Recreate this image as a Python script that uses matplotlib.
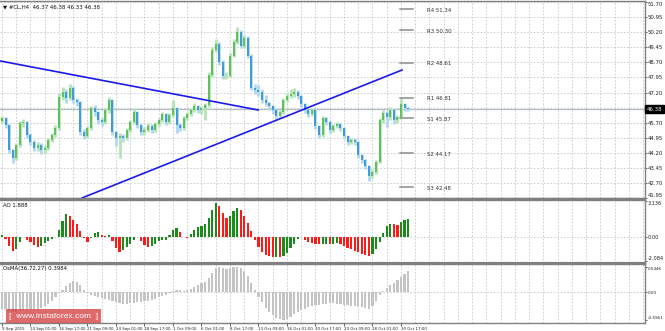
import numpy as np
import matplotlib
matplotlib.use("Agg")
import matplotlib.pyplot as plt
from matplotlib import font_manager

# ---------------- data ----------------
closes = [45.93, 45.58, 44.34, 43.94, 44.59, 45.68, 45.73, 45.09, 44.74, 44.44,
          44.59, 44.34, 44.44, 44.84, 45.09, 45.44, 46.98, 47.23, 46.93, 47.43,
          46.83, 46.73, 45.24, 45.04, 45.44, 46.43, 46.23, 45.83, 45.73, 46.33,
          46.83, 45.24, 44.94, 45.04, 44.94, 45.34, 45.73, 46.23, 45.58, 45.24,
          45.34, 45.53, 45.34, 45.63, 45.83, 46.13, 45.73, 46.08, 46.43, 45.58,
          45.44, 45.93, 46.13, 46.33, 46.53, 46.33, 46.43, 46.58, 48.07, 49.31,
          49.61, 48.72, 48.02, 48.02, 49.02, 49.71, 50.21, 49.51, 49.91, 49.02,
          47.43, 47.33, 47.23, 46.83, 46.68, 46.53, 46.33, 46.03, 46.23, 46.83,
          47.03, 47.13, 47.23, 47.03, 46.63, 46.33, 46.13, 46.33, 45.53, 45.09,
          45.93, 45.73, 45.34, 45.53, 45.63, 45.44, 45.04, 44.74, 44.84, 44.74,
          44.09, 43.84, 43.55, 43.05, 43.25, 43.75, 45.83, 46.18, 45.98, 46.33,
          45.83, 45.98, 46.63, 46.43, 46.38]
highs = [46.05, 46.00, 45.65, 44.40, 44.70, 45.80, 45.90, 45.80, 45.20, 44.85,
         44.75, 44.70, 44.60, 44.95, 45.20, 45.60, 47.20, 47.45, 47.35, 47.60,
         47.50, 46.95, 46.80, 45.40, 45.55, 46.55, 46.60, 46.30, 45.95, 46.45,
         47.00, 46.90, 45.30, 45.20, 45.15, 45.45, 45.85, 46.45, 46.30, 45.65,
         45.50, 45.70, 45.65, 45.75, 45.95, 46.25, 46.20, 46.20, 46.85, 46.50,
         45.70, 46.05, 46.25, 46.45, 46.70, 46.60, 46.55, 46.70, 48.20, 49.45,
         49.85, 49.70, 48.80, 48.20, 49.15, 49.85, 50.45, 50.30, 50.05, 50.00,
         49.10, 47.60, 47.55, 47.35, 47.10, 46.75, 46.60, 46.40, 46.35, 46.95,
         47.20, 47.35, 47.40, 47.30, 47.10, 46.70, 46.40, 46.45, 46.40, 45.60,
         46.05, 46.00, 45.80, 45.65, 45.75, 45.70, 45.50, 45.10, 44.95, 44.95,
         44.80, 44.15, 43.90, 43.60, 43.40, 43.85, 45.95, 46.35, 46.30, 46.50,
         46.40, 46.10, 46.95, 46.70, 46.50]
lows = [45.70, 45.45, 44.20, 43.70, 43.85, 44.50, 45.50, 44.95, 44.60, 44.30,
        44.30, 44.15, 44.20, 44.35, 44.75, 45.00, 45.35, 46.85, 46.70, 46.85,
        46.70, 46.55, 45.10, 44.90, 44.95, 45.35, 46.05, 45.65, 45.55, 45.65,
        46.20, 45.10, 44.55, 43.95, 44.75, 44.85, 45.25, 45.65, 45.45, 45.10,
        45.10, 45.25, 45.20, 45.25, 45.55, 45.75, 45.60, 45.65, 46.00, 45.20,
        45.30, 45.35, 45.85, 46.05, 46.25, 46.20, 46.15, 45.85, 46.50, 47.95,
        49.20, 48.55, 47.85, 47.85, 47.95, 48.95, 49.60, 49.40, 49.40, 48.90,
        47.30, 47.15, 47.05, 46.70, 46.55, 46.35, 46.15, 45.85, 45.95, 46.15,
        46.75, 46.95, 47.00, 46.90, 46.50, 46.20, 46.00, 46.05, 45.40, 44.95,
        45.00, 45.60, 45.20, 45.25, 45.45, 45.30, 44.90, 44.60, 44.65, 44.60,
        43.95, 43.70, 43.40, 42.80, 42.95, 43.15, 43.70, 45.70, 45.50, 45.85,
        45.65, 45.70, 45.90, 46.30, 46.30]
first_open = 45.80

ao = [0.15, -0.2, -0.8, -1.25, -1.1, -0.5, -0.05, -0.3, -0.5, -0.7,
      -0.85, -0.8, -0.55, -0.35, -0.2, -0.05, 0.6, 1.4, 1.95, 1.8,
      1.5, 1.15, 0.5, -0.1, -0.45, -0.1, 0.35, 0.45, 0.15, 0.05,
      0.15, -0.35, -0.95, -1.3, -1.15, -0.9, -0.6, -0.3, -0.05, -0.4,
      -0.7, -0.85, -0.8, -0.6, -0.35, -0.3, -0.25, 0.15, 0.55, 0.75,
      0.45, -0.05, -0.1, 0.2, 0.6, 0.85, 0.9, 1.1, 1.6, 2.3,
      2.95, 2.7, 2.1, 1.6, 1.8, 2.2, 2.5, 2.3, 1.8, 1.2,
      0.5, -0.3, -0.9, -1.3, -1.55, -1.7, -1.8, -1.75, -1.8, -1.7,
      -1.4, -1.0, -0.6, -0.2, -0.05, -0.3, -0.5, -0.55, -0.6, -0.65,
      -0.6, -0.6, -0.65, -0.6, -0.55, -0.6, -0.8, -1.0, -1.1, -1.2,
      -1.35, -1.5, -1.6, -1.7, -1.5, -1.1, -0.5, 0.3, 0.9, 1.15,
      1.1, 1.05, 1.3, 1.45, 1.55]

osma = [-0.35, -0.37, -0.40, -0.42, -0.42, -0.40, -0.38, -0.37, -0.36, -0.36,
        -0.35, -0.33, -0.30, -0.25, -0.18, -0.10, -0.02, 0.06, 0.14, 0.20,
        0.25, 0.22, 0.15, 0.06, -0.02, -0.06, -0.08, -0.10, -0.13, -0.15,
        -0.17, -0.19, -0.22, -0.24, -0.25, -0.25, -0.24, -0.23, -0.22, -0.20,
        -0.19, -0.18, -0.16, -0.14, -0.11, -0.08, -0.05, -0.01, 0.03, 0.05,
        0.04, 0.03, 0.05, 0.08, 0.12, 0.16, 0.20, 0.23, 0.30, 0.42,
        0.52, 0.55, 0.52, 0.50, 0.52, 0.54, 0.55, 0.52, 0.45, 0.35,
        0.20, 0.05, -0.10, -0.22, -0.33, -0.43, -0.50, -0.55, -0.58, -0.59,
        -0.57, -0.53, -0.47, -0.42, -0.38, -0.35, -0.32, -0.30, -0.28, -0.27,
        -0.26, -0.25, -0.24, -0.24, -0.25, -0.26, -0.27, -0.28, -0.29, -0.30,
        -0.31, -0.32, -0.34, -0.36, -0.30, -0.18, -0.06, 0.02, 0.10, 0.15,
        0.20, 0.26, 0.33, 0.40, 0.47]

date_labels = ["9 Sep 2015", "14 Sep 01:00", "16 Sep 17:00", "21 Sep 09:00",
               "24 Sep 01:00", "28 Sep 17:00", "1 Oct 09:00", "6 Oct 01:00",
               "8 Oct 17:00", "13 Oct 09:00", "16 Oct 01:00", "20 Oct 17:00",
               "23 Oct 09:00", "28 Oct 01:00", "30 Oct 17:00"]

price_ticks = [51.70, 50.95, 50.20, 49.45, 48.70, 47.95, 47.20,
               45.70, 44.95, 44.20, 43.45, 42.70, 41.95]
last_price = 46.38

ao_ticks = [3.136, 0.0, -2.084]
ao_tick_text = ["3.136", "0.00", "-2.084"]
osma_ticks = [0.5446, 0.0, -0.5961]
osma_tick_text = ["0.5446", "0.00", "-0.5961"]

pivot_names = ["R4", "R3", "R2", "R1", "S1", "S2", "S3"]
pivot_text = ["51.34", "50.30", "48.61", "46.81", "45.87", "44.17", "42.48"]
pivot_levels = [51.34, 50.30, 48.67, 46.93, 45.93, 44.19, 42.50]

# trend lines: (bar, price) end points
trend_down = ([-0.56, 71.9], [48.77, 46.33])
trend_up = ([22.5, 112.3], [41.96, 48.32])

# ---------------- fonts ----------------
installed = {f.name for f in font_manager.fontManager.ttflist}
NARROW = "Liberation Sans Narrow" if "Liberation Sans Narrow" in installed \
    else "DejaVu Sans"
plt.rcParams["font.family"] = [NARROW, "DejaVu Sans"]


def fit_size(texts, max_px, start=4.0):
    """largest font size (pt) so that every text is at most max_px wide"""
    fp = font_manager.FontProperties(family=[NARROW, "DejaVu Sans"], size=10)
    tp = matplotlib.textpath.TextPath
    widest = max(tp((0, 0), t, prop=fp).get_extents().width for t in texts)
    px_at_10 = widest * 100 / 72
    return min(start, 10 * max_px / px_at_10)


# ---------------- figure ----------------
W, H = 665, 331
fig = plt.figure(figsize=(W / 100, H / 100), dpi=100)
fig.patch.set_facecolor("white")

FS = 3.9
FS_X = fit_size(date_labels, 26)
FS_MAIN = fit_size(["51.70"], 15.5, start=3.9)
FS_AO = fit_size(ao_tick_text, 15.5, start=3.9)
FS_OS = fit_size(osma_tick_text, 15.5, start=3.9)
GRID = dict(color="#c4c8cc", lw=0.6, ls=(0, (2, 2)))
RIGHT = 645


def add_pane(top, bottom):
    return fig.add_axes([0, 1 - bottom / H, RIGHT / W, (bottom - top) / H])


ax1 = add_pane(1, 198.5)
ax2 = add_pane(199.5, 262.5)
ax3 = add_pane(263.5, 322.5)

n = len(closes)
x = np.arange(n)
xlim = (-0.56, 180.5)
opens = [first_open] + closes[:-1]

for ax, fs in ((ax1, FS_MAIN), (ax2, FS_AO), (ax3, FS_OS)):
    ax.set_xlim(*xlim)
    ax.set_facecolor("white")
    for s in ax.spines.values():
        s.set_color("#808080")
        s.set_linewidth(1.0)
    ax.spines["left"].set_visible(False)
    ax.yaxis.tick_right()
    ax.tick_params(axis="y", labelsize=fs, length=1.2, width=0.5, pad=0.8,
                   colors="#202020")
    ax.tick_params(axis="x", length=0, labelbottom=False)
    for gx in np.arange(0, 181, 4):
        ax.axvline(gx, zorder=0, **GRID)

# ---- main price pane ----
ax1.set_ylim(41.93, 51.75)
ax1.set_yticks(price_ticks)
ax1.set_yticklabels([f"{v:.2f}" for v in price_ticks])
for v in price_ticks + [46.45]:
    ax1.axhline(v, zorder=0, **GRID)
labs = ax1.get_yticklabels()
labs[0].set_va("top")
labs[-1].set_va("bottom")

up = np.array(closes) >= np.array(opens)
for i in range(n):
    wick_c = "#b4e4b4" if up[i] else "#b0d8f0"
    body_c = "#4cba4c" if up[i] else "#2c8fd0"
    ax1.vlines(x[i], lows[i], highs[i], color=wick_c, lw=2.0, zorder=2)
    ax1.vlines(x[i], min(opens[i], closes[i]), max(opens[i], closes[i]),
               color=body_c, lw=1.2, zorder=3)

ax1.axhline(last_price, color="#b4bec8", lw=0.9, zorder=1)
ax1.plot(*trend_down, color="#1a1aee", lw=1.2, zorder=4)
ax1.plot(*trend_up, color="#1a1aee", lw=1.2, zorder=4)

for name, txt, lvl in zip(pivot_names, pivot_text, pivot_levels):
    ax1.plot([111.7, 115.4], [lvl, lvl], color="#8c8c8c", lw=1.1, zorder=3)
    ax1.text(119.3, lvl - 0.05, f"{name} {txt}", fontsize=FS, color="#303030",
             va="center", ha="left")

ax1.text(0.004, 0.985, "\u25bc #CL,H4  46.37 46.38 46.33 46.38",
         transform=ax1.transAxes, fontsize=FS, va="top", ha="left",
         color="#101010")
ax1.annotate(f"{last_price:.2f}", xy=(1.0, last_price),
             xycoords=("axes fraction", "data"), xytext=(1.2, 0),
             textcoords="offset points", fontsize=FS_MAIN, color="white",
             va="center", ha="left",
             bbox=dict(boxstyle="square,pad=0.25", fc="black", ec="black"))

# ---- AO pane ----
ax2.set_ylim(-2.24, 3.24)
ao_arr = np.array(ao)
ao_col = ["#1a8c1a" if i == 0 or ao_arr[i] >= ao_arr[i - 1] else "#ff1a1a"
          for i in range(n)]
ax2.bar(x, ao_arr, width=0.62, color=ao_col, zorder=2)
ax2.axhline(0, zorder=1, **GRID)
ax2.set_yticks(ao_ticks)
ax2.set_yticklabels(ao_tick_text)
labs = ax2.get_yticklabels()
labs[0].set_va("top")
labs[-1].set_va("bottom")
ax2.text(0.004, 0.95, "AO 1.888", transform=ax2.transAxes, fontsize=FS,
         va="top", ha="left", color="#101010")

# ---- OsMA pane ----
ax3.set_ylim(-0.652, 0.622)
ax3.bar(x, osma, width=0.62, color="#c4c4c4", zorder=2)
ax3.axhline(0, zorder=1, **GRID)
ax3.set_yticks(osma_ticks)
ax3.set_yticklabels(osma_tick_text)
labs = ax3.get_yticklabels()
labs[0].set_va("top")
labs[-1].set_va("bottom")
ax3.text(0.004, 0.95, "OsMA(36,72,27) 0.3984", transform=ax3.transAxes,
         fontsize=FS, va="top", ha="left", color="#101010")

ax3.set_xticks(np.arange(0, 8 * len(date_labels), 8))
ax3.set_xticklabels(date_labels)
ax3.tick_params(axis="x", labelbottom=True, labelsize=FS_X, length=2,
                width=0.5, pad=1, colors="#202020")
for lab in ax3.get_xticklabels():
    lab.set_ha("left")

# pane separators
for yy in (199, 263):
    fig.add_artist(plt.Line2D([0, RIGHT / W], [1 - yy / H, 1 - yy / H],
                              color="#808080", lw=1.6))

# watermark
fig.text(9 / W, 1 - 316 / H, "[  www.instaforex.com  ]", fontsize=6.0,
         color="white", va="center", ha="left",
         family=["Liberation Sans", "DejaVu Sans"],
         bbox=dict(boxstyle="square,pad=0.4", fc="#d23a3a", ec="none",
                   alpha=0.75))

fig.savefig("out.png", dpi=100, facecolor="white")
